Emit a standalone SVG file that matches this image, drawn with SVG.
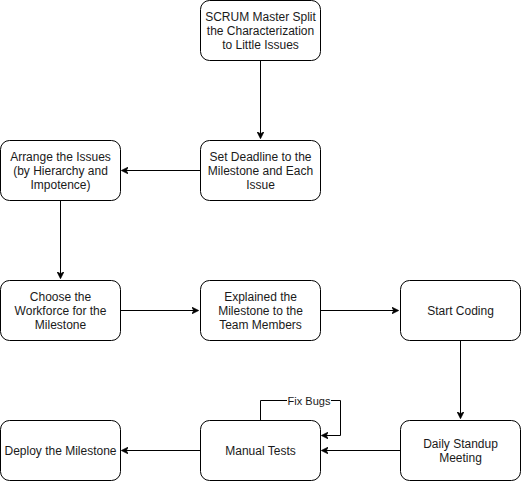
<svg xmlns="http://www.w3.org/2000/svg" width="521" height="482" viewBox="0 0 521 482">
<style>
.n rect{fill:#fff;stroke:#000;stroke-width:1}
.n text{font-family:"Liberation Sans",Arial,sans-serif;font-size:12px;fill:#1a1a1a;text-anchor:middle}
.e path{fill:none;stroke:#000;stroke-width:1}
.lbl{font-family:"Liberation Sans",Arial,sans-serif;font-size:11px;fill:#1a1a1a;text-anchor:middle}
</style>
<defs>
<marker id="a" viewBox="0 0 10 10" refX="9" refY="5" markerWidth="7" markerHeight="7" orient="auto" markerUnits="userSpaceOnUse">
<path d="M0,0 L10,5 L0,10 L3,5 Z" fill="#000" stroke="#000" stroke-width="1"/>
</marker>
</defs>
<rect width="521" height="482" fill="#fff"/>
<g class="e">
<path d="M260.5,60.5 V138" marker-end="url(#a)"/>
<path d="M200.5,170.5 H122" marker-end="url(#a)"/>
<path d="M60.5,200.5 V278" marker-end="url(#a)"/>
<path d="M120.5,310.5 H198" marker-end="url(#a)"/>
<path d="M320.5,310.5 H398" marker-end="url(#a)"/>
<path d="M460.5,340.5 V418" marker-end="url(#a)"/>
<path d="M400.5,450.5 H322" marker-end="url(#a)"/>
<path d="M200.5,450.5 H122" marker-end="url(#a)"/>
<path d="M260.5,420.5 V400.5 H340.5 V435.5 H322" marker-end="url(#a)"/>
<rect x="287" y="394" width="44" height="13" fill="#fff"/>
<text class="lbl" x="309" y="405">Fix Bugs</text>
</g>
<g id="n1" class="n"><rect x="200.5" y="0.5" width="120" height="60" rx="9"/>
<text x="260.5" y="21">SCRUM Master Split</text><text x="260.5" y="35">the Characterization</text><text x="260.5" y="49">to Little Issues</text></g>
<g id="n2" class="n"><rect x="200.5" y="140.5" width="120" height="60" rx="9"/>
<text x="260.5" y="161">Set Deadline to the</text><text x="260.5" y="175">Milestone and Each</text><text x="260.5" y="189">Issue</text></g>
<g id="n3" class="n"><rect x="0.5" y="140.5" width="120" height="60" rx="9"/>
<text x="60.5" y="161">Arrange the Issues</text><text x="60.5" y="175">(by Hierarchy and</text><text x="60.5" y="189">Impotence)</text></g>
<g id="n4" class="n"><rect x="0.5" y="280.5" width="120" height="60" rx="9"/>
<text x="60.5" y="301">Choose the</text><text x="60.5" y="315">Workforce for the</text><text x="60.5" y="329">Milestone</text></g>
<g id="n5" class="n"><rect x="200.5" y="280.5" width="120" height="60" rx="9"/>
<text x="260.5" y="301">Explained the</text><text x="260.5" y="315">Milestone to the</text><text x="260.5" y="329">Team Members</text></g>
<g id="n6" class="n"><rect x="400.5" y="280.5" width="120" height="60" rx="9"/>
<text x="460.5" y="315">Start Coding</text></g>
<g id="n7" class="n"><rect x="400.5" y="420.5" width="120" height="60" rx="9"/>
<text x="460.5" y="448">Daily Standup</text><text x="460.5" y="462">Meeting</text></g>
<g id="n8" class="n"><rect x="200.5" y="420.5" width="120" height="60" rx="9"/>
<text x="260.5" y="455">Manual Tests</text></g>
<g id="n9" class="n"><rect x="0.5" y="420.5" width="120" height="60" rx="9"/>
<text x="60.5" y="455">Deploy the Milestone</text></g>
</svg>
